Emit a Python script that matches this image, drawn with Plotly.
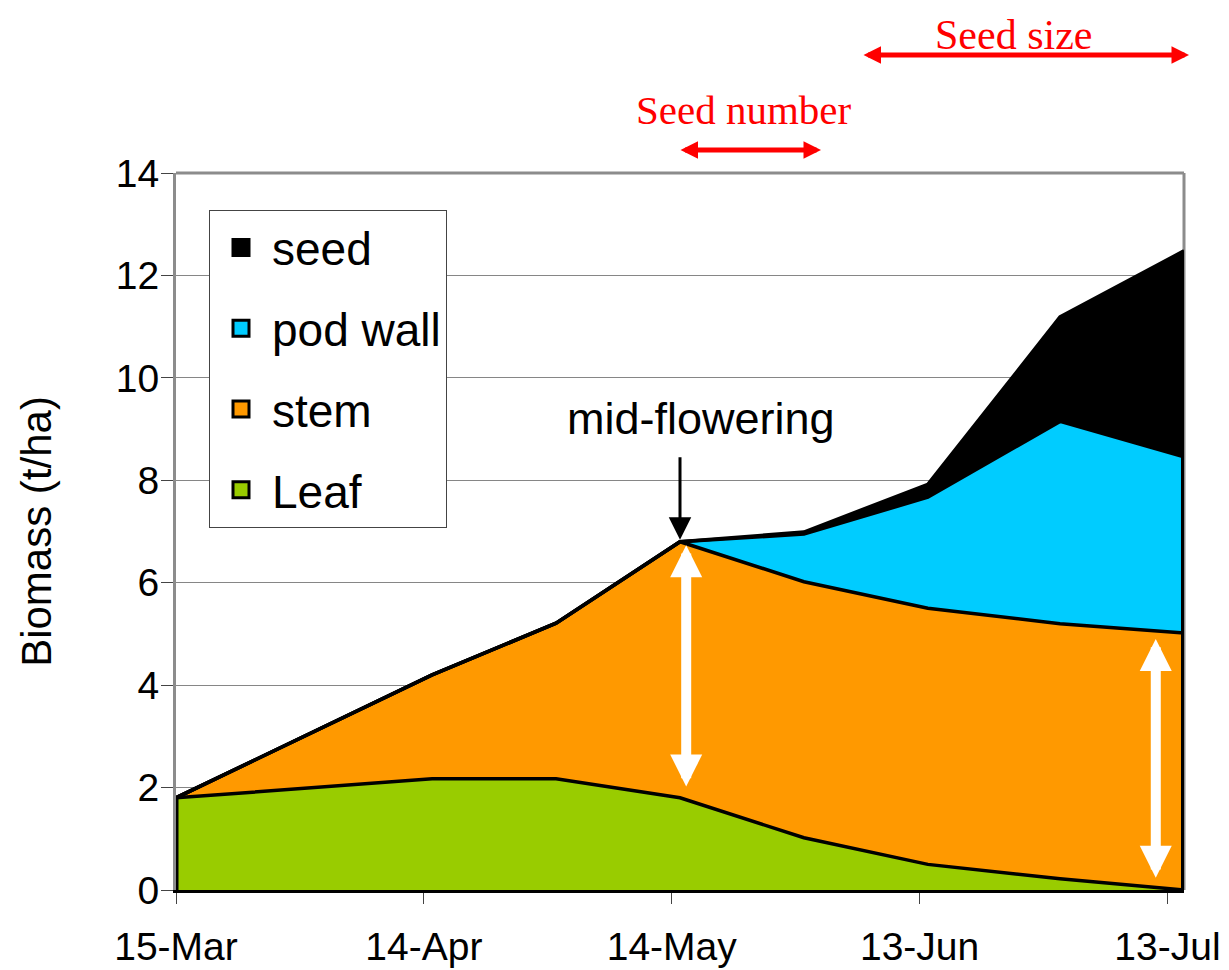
import plotly.graph_objects as go

# ---------------- data ----------------
dates = ["2005-03-15", "2005-04-15", "2005-04-30", "2005-05-15",
         "2005-05-30", "2005-06-14", "2005-06-30", "2005-07-15"]
leaf = [1.80, 2.17, 2.17, 1.80, 1.02, 0.50, 0.22, 0.00]
stem = [0.00, 2.03, 3.04, 5.00, 5.00, 5.00, 4.98, 5.02]
pod_wall = [0.00, 0.00, 0.00, 0.00, 0.93, 2.17, 3.95, 3.44]
seed = [0.00, 0.00, 0.00, 0.00, 0.04, 0.25, 2.04, 4.02]

series_names = ["Leaf", "stem", "pod wall", "seed"]
series_values = [leaf, stem, pod_wall, seed]
series_colors = ["#99CC00", "#FF9900", "#00CCFF", "#000000"]

tick_vals = ["2005-03-15", "2005-04-14", "2005-05-14", "2005-06-13", "2005-07-13"]
tick_text = ["15-Mar", "14-Apr", "14-May", "13-Jun", "13-Jul"]
x_range = ["2005-03-15", "2005-07-15"]

FONT = "Liberation Sans"
SERIF = "Liberation Serif"

fig = go.Figure()

# stacked areas
for name, vals, col in zip(series_names, series_values, series_colors):
    fig.add_trace(go.Scatter(
        x=dates, y=vals, name=name, stackgroup="one", mode="lines",
        line=dict(color="black", width=3.5), fillcolor=col,
        showlegend=False, hoverinfo="skip"))

# closing edges of the area outline (first and last dates)
first_total = sum(v[0] for v in series_values)
last_total = sum(v[-1] for v in series_values)
fig.add_trace(go.Scatter(x=[dates[0], dates[0]], y=[0, first_total], mode="lines",
                         line=dict(color="black", width=5), showlegend=False, hoverinfo="skip"))
fig.add_trace(go.Scatter(x=[dates[-1], dates[-1]], y=[0, last_total], mode="lines",
                         line=dict(color="black", width=6), showlegend=False, hoverinfo="skip"))

# legend entries (top to bottom: seed, pod wall, stem, Leaf)
for name, col in reversed(list(zip(series_names, series_colors))):
    fig.add_trace(go.Scatter(
        x=[None], y=[None], name=name, mode="markers", legendgroup=name,
        marker=dict(symbol="square", size=26, color=col, line=dict(color="black", width=3))))

# plot-area pixel helpers (plot spans 176..1184 horizontally, 173..890 vertically in the page)
def px(xpix):
    return (xpix - 176) / 1008

def py(ypix):
    return (890 - ypix) / 717

annotations = [
    # mid-flowering label + arrow
    dict(x=dates[3], y=leaf[3] + stem[3], xref="x", yref="y", text="", showarrow=True,
         ax=0, ay=-86, arrowhead=2, arrowwidth=3, arrowsize=1.5, arrowcolor="black", standoff=2),
    dict(x=px(701), y=py(418), xref="paper", yref="paper", text="mid-flowering",
         xanchor="center", yanchor="middle",
         showarrow=False, font=dict(family=FONT, size=45, color="black")),
    # white double arrows
    dict(x="2005-05-15 18:00", y=2.02, xref="x", yref="y", axref="x", ayref="y",
         ax="2005-05-15 18:00", ay=6.76, text="", showarrow=True, arrowside="end+start",
         arrowhead=2, startarrowhead=2, arrowwidth=10, arrowsize=0.64, startarrowsize=0.64,
         arrowcolor="white", standoff=0, startstandoff=0),
    dict(x="2005-07-11 14:00", y=0.24, xref="x", yref="y", axref="x", ayref="y",
         ax="2005-07-11 14:00", ay=4.93, text="", showarrow=True, arrowside="end+start",
         arrowhead=2, startarrowhead=2, arrowwidth=10, arrowsize=0.64, startarrowsize=0.64,
         arrowcolor="white", standoff=0, startstandoff=0),
    # red arrows above the plot
    dict(x=px(821), y=py(150), xref="paper", yref="paper", text="",
         showarrow=True, ax=-142, ay=0, arrowside="end+start", arrowhead=2, startarrowhead=2,
         arrowwidth=5, arrowsize=0.7, startarrowsize=0.7, arrowcolor="#FF0000",
         standoff=0, startstandoff=0),
    dict(x=px(744), y=py(110), xref="paper", yref="paper", xanchor="center", yanchor="middle",
         text="Seed number", showarrow=False, borderpad=0,
         font=dict(family=SERIF, size=41, color="#FF0000")),
    dict(x=px(1189), y=py(55), xref="paper", yref="paper", text="",
         showarrow=True, ax=-327, ay=0, arrowside="end+start", arrowhead=2, startarrowhead=2,
         arrowwidth=5, arrowsize=0.7, startarrowsize=0.7, arrowcolor="#FF0000",
         standoff=0, startstandoff=0),
    dict(x=px(1013), y=py(35), xref="paper", yref="paper", xanchor="center", yanchor="middle",
         text="Seed size", showarrow=False, borderpad=0,
         font=dict(family=SERIF, size=42, color="#FF0000")),
]

shapes = [
    dict(type="line", xref="paper", yref="paper", x0=0, x1=1, y0=1, y1=1,
         line=dict(color="#8c8c8c", width=3), layer="below"),
    dict(type="line", xref="paper", yref="paper", x0=1, x1=1, y0=0, y1=1,
         line=dict(color="#8c8c8c", width=3), layer="below"),
]

# page body has an 8px margin, so the figure is 8px smaller and margins shifted accordingly
fig.update_layout(
    width=1221, height=962,
    margin=dict(l=168, r=45, t=165, b=80, autoexpand=False),
    paper_bgcolor="white", plot_bgcolor="white",
    font=dict(family=FONT, color="black"),
    showlegend=True,
    legend=dict(x=px(209), y=py(210), xanchor="left", yanchor="top",
                bgcolor="white", bordercolor="#444444", borderwidth=1,
                font=dict(family=FONT, size=46, color="black"),
                tracegroupgap=18, itemwidth=52, traceorder="grouped"),
    xaxis=dict(type="date", range=x_range, tickvals=tick_vals, ticktext=tick_text,
               automargin=False,
               showgrid=False, zeroline=False, showline=True, linecolor="black", linewidth=3,
               ticks="outside", ticklen=11, tickwidth=1, tickcolor="#444444",
               ticklabelstandoff=9,
               tickfont=dict(family=FONT, size=39, color="black")),
    yaxis=dict(range=[0, 14], dtick=2, tick0=0, showgrid=True, gridcolor="#868686", gridwidth=1,
               automargin=False,
               zeroline=False, showline=True, linecolor="#8c8c8c", linewidth=3, layer="below traces",
               ticks="outside", ticklen=12, tickwidth=1, tickcolor="#444444",
               ticklabelstandoff=-6,
               tickfont=dict(family=FONT, size=39, color="black"),
               title=dict(text="Biomass (t/ha)", font=dict(family=FONT, size=42, color="black"),
                          standoff=52)),
    annotations=annotations,
    shapes=shapes,
)

fig.write_html("out.html")
